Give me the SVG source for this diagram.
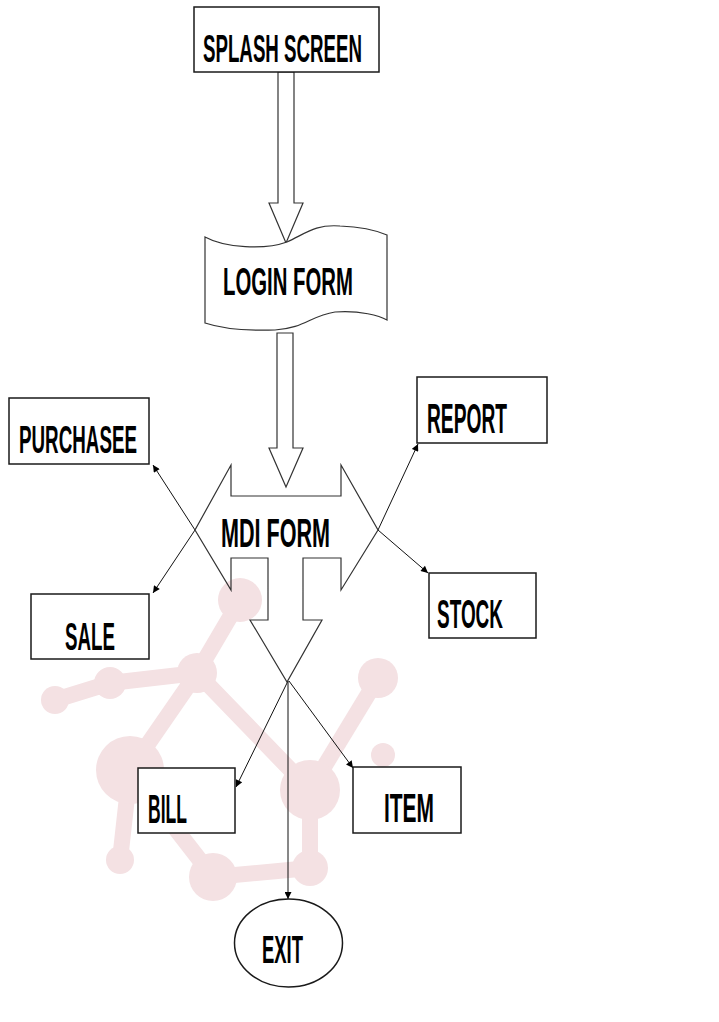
<svg xmlns="http://www.w3.org/2000/svg" width="719" height="1022" viewBox="0 0 719 1022">
<style>
.box{fill:#fff;stroke:#1a1a1a;stroke-width:1.5}
.shape{fill:#fff;stroke:#333;stroke-width:1.2}
.t{font-family:"Liberation Sans",Arial,sans-serif;font-weight:bold;fill:#000}
.c{fill:none;stroke:#111;stroke-width:1}
.pk{fill:#f4e1e3}
.pkl{stroke:#f4e1e3;stroke-width:16;stroke-linecap:round}
</style>
<defs>
<marker id="ah" viewBox="0 0 10 10" refX="10" refY="5" markerWidth="10" markerHeight="7" orient="auto" markerUnits="userSpaceOnUse">
<path d="M0,0 L10,5 L0,10 z" fill="#000"/>
</marker>
</defs>
<rect width="719" height="1022" fill="#fff"/>
<g id="watermark">
<line class="pkl" x1="55" y1="700" x2="110" y2="683"/>
<line class="pkl" x1="110" y1="683" x2="197" y2="673"/>
<line class="pkl" x1="130" y1="770" x2="197" y2="673"/>
<line class="pkl" x1="130" y1="770" x2="213" y2="877"/>
<line class="pkl" x1="197" y1="673" x2="310" y2="790"/>
<line class="pkl" x1="310" y1="790" x2="378" y2="678"/>
<line class="pkl" x1="310" y1="790" x2="310" y2="868"/>
<line class="pkl" x1="213" y1="877" x2="310" y2="868"/>
<line class="pkl" x1="120" y1="860" x2="130" y2="770"/>
<line class="pkl" x1="197" y1="673" x2="240" y2="600"/>
<circle class="pk" cx="55" cy="700" r="14"/>
<circle class="pk" cx="110" cy="683" r="16"/>
<circle class="pk" cx="197" cy="673" r="20"/>
<circle class="pk" cx="130" cy="770" r="34"/>
<circle class="pk" cx="120" cy="860" r="14"/>
<circle class="pk" cx="213" cy="877" r="24"/>
<circle class="pk" cx="310" cy="868" r="18"/>
<circle class="pk" cx="378" cy="678" r="20"/>
<circle class="pk" cx="310" cy="790" r="30"/>
<circle class="pk" cx="383" cy="755" r="12"/>
<circle class="pk" cx="240" cy="600" r="22"/>
</g>
<g id="connectors">
<polygon class="shape" points="278,72 278,203 269,203 286,243 303,203 294,203 294,72"/>
<polygon class="shape" points="277,333 277,448 269,448 286,487 303,448 293,448 293,333"/>
<line class="c" x1="195" y1="530" x2="153" y2="465" marker-end="url(#ah)"/>
<line class="c" x1="195" y1="530" x2="153" y2="593" marker-end="url(#ah)"/>
<line class="c" x1="378" y1="530" x2="418" y2="444" marker-end="url(#ah)"/>
<line class="c" x1="378" y1="530" x2="428" y2="573" marker-end="url(#ah)"/>
<line class="c" x1="288" y1="681" x2="236" y2="787" marker-end="url(#ah)"/>
<line class="c" x1="289" y1="681" x2="353" y2="768" marker-end="url(#ah)"/>
<line class="c" x1="288" y1="681" x2="288" y2="899" marker-end="url(#ah)"/>
</g>
<g id="splash">
<rect class="box" x="194" y="7" width="185" height="65"/>
<text class="t" x="203" y="62" font-size="38" textLength="159" lengthAdjust="spacingAndGlyphs">SPLASH SCREEN</text>
</g>
<g id="login">
<path class="shape" d="M205,237 C225,248 265,250 287,242 C305,234 315,224 340,226 C365,227 380,232 387,235 L387,320 C380,316 360,310 335,312 C310,316 305,328 275,330 C245,331 220,328 205,323 Z"/>
<text class="t" x="223" y="295" font-size="38" textLength="130" lengthAdjust="spacingAndGlyphs">LOGIN FORM</text>
</g>
<g id="mdi">
<polygon class="shape" points="231,496 231,465 195,530 231,590 231,558 268,558 268,620 250,620 287,682 322,620 303,620 303,558 341,558 341,590 378,530 341,465 341,496" fill-opacity="0"/>
<text class="t" x="221" y="547" font-size="41" textLength="109" lengthAdjust="spacingAndGlyphs">MDI FORM</text>
</g>
<g id="purchasee">
<rect class="box" x="9" y="398" width="140" height="66"/>
<text class="t" x="19" y="453" font-size="39" textLength="118" lengthAdjust="spacingAndGlyphs">PURCHASEE</text>
</g>
<g id="sale">
<rect class="box" x="31" y="594" width="118" height="65"/>
<text class="t" x="65" y="650" font-size="39" textLength="50" lengthAdjust="spacingAndGlyphs">SALE</text>
</g>
<g id="report">
<rect class="box" x="417" y="377" width="130" height="66"/>
<text class="t" x="427" y="433" font-size="42" textLength="80" lengthAdjust="spacingAndGlyphs">REPORT</text>
</g>
<g id="stock">
<rect class="box" x="429" y="573" width="107" height="65"/>
<text class="t" x="437" y="628" font-size="41" textLength="66" lengthAdjust="spacingAndGlyphs">STOCK</text>
</g>
<g id="bill">
<rect class="box" x="138" y="768" width="97" height="65"/>
<text class="t" x="148" y="823" font-size="41" textLength="39" lengthAdjust="spacingAndGlyphs">BILL</text>
</g>
<g id="item">
<rect class="box" x="353" y="767" width="108" height="66"/>
<text class="t" x="384" y="822" font-size="40" textLength="50" lengthAdjust="spacingAndGlyphs">ITEM</text>
</g>
<g id="exit">
<ellipse class="box" cx="288.5" cy="943" rx="54" ry="44"/>
<text class="t" x="262" y="963" font-size="39" textLength="41" lengthAdjust="spacingAndGlyphs">EXIT</text>
</g>
</svg>
